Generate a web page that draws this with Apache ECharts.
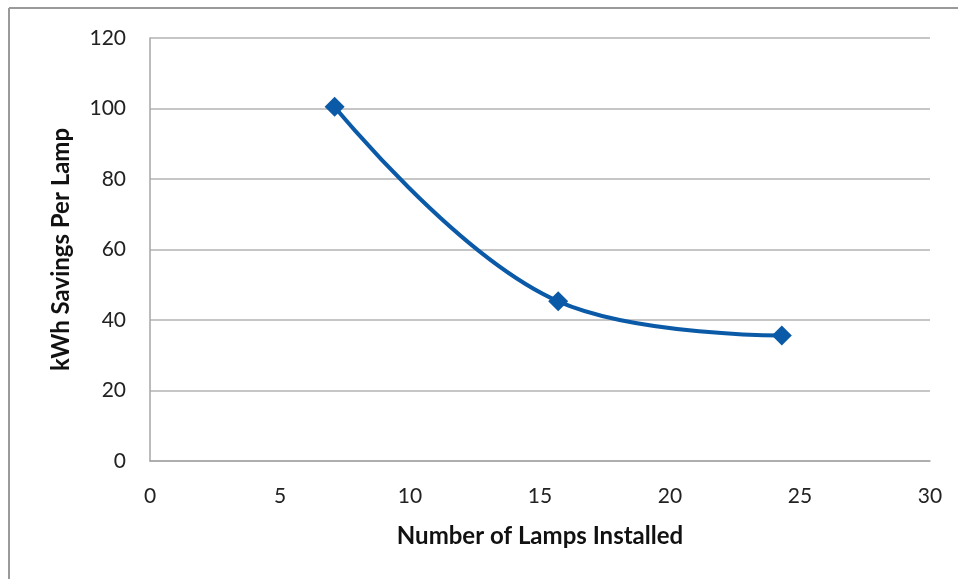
<!DOCTYPE html>
<html>
<head>
<meta charset="utf-8">
<script src="https://cdn.jsdelivr.net/npm/echarts@6/dist/echarts.min.js"></script>
<style>html,body{margin:0;padding:0;background:#fff}#c{width:958px;height:579px}</style>
</head>
<body>
<div id="c"></div>
<script>
const lampsInstalled = [7.1, 15.7, 24.3];
const kwhSavingsPerLamp = [100.5, 45.3, 35.6];
const xTitle = 'Number of Lamps Installed';
const yTitle = 'kWh Savings Per Lamp';

const chart = echarts.init(document.getElementById('c'));
const font = 'Lato, "Open Sans", "Liberation Sans", sans-serif';
chart.setOption({
  animation: false,
  backgroundColor: '#fff',
  graphic: [
    { type: 'line', shape: { x1: 9, y1: 8, x2: 958, y2: 8 }, style: { stroke: '#9a9a9a', lineWidth: 2 } },
    { type: 'line', shape: { x1: 9, y1: 8, x2: 9, y2: 579 }, style: { stroke: '#9a9a9a', lineWidth: 2 } }
  ],
  grid: { left: 150, right: 28, top: 38, bottom: 118 },
  xAxis: {
    type: 'value', min: 0, max: 30, interval: 5,
    name: xTitle, nameLocation: 'middle', nameGap: 63,
    nameTextStyle: { fontFamily: font, fontSize: 24, fontWeight: 'bold', color: '#111' },
    axisLine: { show: true, lineStyle: { color: '#a6a6a6', width: 1.5 } },
    axisTick: { show: false },
    splitLine: { show: false },
    axisLabel: { fontFamily: font, fontSize: 21, color: '#222', margin: 25 }
  },
  yAxis: {
    type: 'value', min: 0, max: 120, interval: 20,
    name: yTitle, nameLocation: 'middle', nameGap: 77,
    nameTextStyle: { fontFamily: font, fontSize: 24, fontWeight: 'bold', color: '#111' },
    axisLine: { show: true, lineStyle: { color: '#a6a6a6', width: 1.5 } },
    axisTick: { show: false },
    splitLine: { show: true, lineStyle: { color: '#b3b3b3', width: 1.5 } },
    axisLabel: { fontFamily: font, fontSize: 21, color: '#222', margin: 24 }
  },
  series: [{
    type: 'line',
    data: lampsInstalled.map((x, i) => [x, kwhSavingsPerLamp[i]]),
    smooth: 0.4,
    symbol: 'diamond',
    symbolSize: 20,
    lineStyle: { color: '#0b5aa8', width: 4 },
    itemStyle: { color: '#0b5aa8' }
  }]
});
</script>
</body>
</html>
